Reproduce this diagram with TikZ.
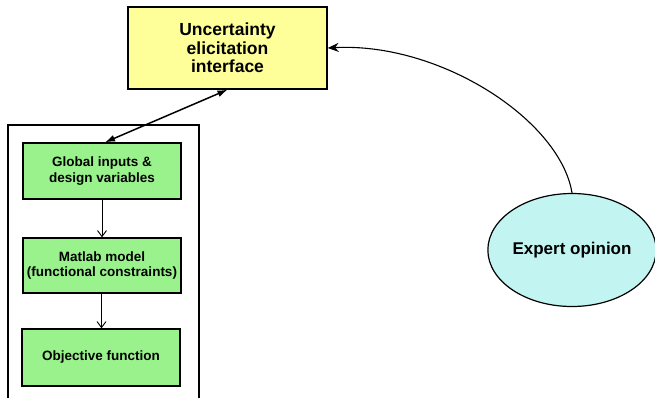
\documentclass[tikz,border=0pt]{standalone}
\usepackage{fontspec}
\setmainfont{Liberation Sans}
\usetikzlibrary{arrows.meta,shapes.geometric}
\definecolor{boxyellow}{HTML}{FFFF99}
\definecolor{boxgreen}{HTML}{99F28C}
\definecolor{ellcyan}{HTML}{C2F5F2}
\tikzset{
  ybox/.style={draw=black, line width=1.4pt, fill=boxyellow, minimum width=199pt, minimum height=82pt, align=center, inner sep=0pt, font=\fontsize{17.5}{18.5}\selectfont\bfseries},
  gbox/.style={draw=black, line width=1.4pt, fill=boxgreen, minimum width=158pt, minimum height=56pt, align=center, inner sep=0pt, font=\fontsize{13.5}{15.5}\selectfont\bfseries},
  frame/.style={draw=black, line width=1.2pt, fill=none, minimum width=191pt, minimum height=290pt, inner sep=0pt},
  ell/.style={ellipse, draw=black, line width=1.2pt, fill=ellcyan, minimum width=168pt, minimum height=113pt, inner sep=0pt, font=\fontsize{17}{19}\selectfont\bfseries},
  flow/.style={line width=1pt, -{Straight Barb[length=6pt,width=9pt,line width=0.9pt]}},
  dbl/.style={line width=1.5pt, {Latex[length=10pt,width=7pt]}-{Latex[length=10pt,width=7pt]}},
  curvearrow/.style={line width=1.1pt, -{Stealth[length=11pt,width=9pt]}}
}
\begin{document}
\begin{tikzpicture}[x=1pt,y=-1pt]
\useasboundingbox (0,0) rectangle (655,397);
\fill[white] (0,0) rectangle (655,397);
\node[frame] (fr) at (103.5,270) {};
\node[ybox] (unc) at (227.5,48) {Uncertainty\\elicitation\\interface};
\node[gbox] (g1) at (102,171) {Global inputs \&\\design variables};
\node[gbox, minimum height=55pt] (g2) at (102,265.5) {Matlab model\\(functional constraints)};
\node[gbox, minimum height=57pt] (g3) at (101,357.5) {Objective function};
\node[ell] (exp) at (572,250) {Expert opinion};
\draw[flow] (g1.south) -- (g2.north);
\draw[flow] ([xshift=-0.5pt]g2.south) -- ([xshift=-0.5pt]g2.south |- g3.north);
\draw[dbl] ([xshift=3pt]g1.north) -- (unc.south);
\draw[curvearrow] (exp.north) .. controls (560,120) and (440,42) .. (unc.east);
\end{tikzpicture}
\end{document}
